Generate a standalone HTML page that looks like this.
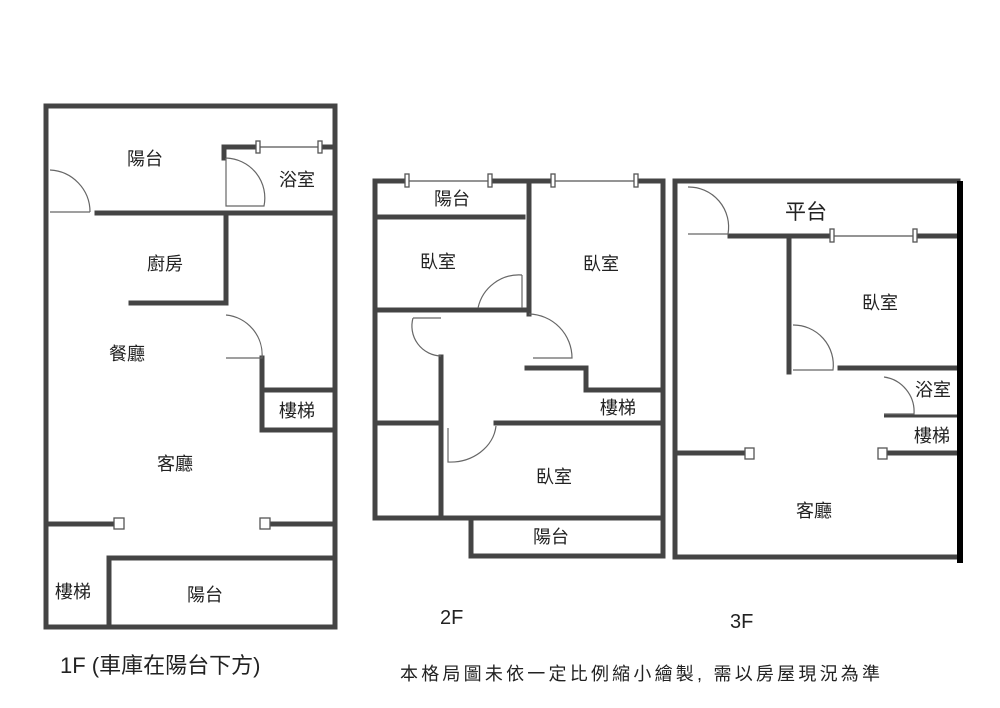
<!DOCTYPE html>
<html><head><meta charset="utf-8"><style>
body{margin:0;background:#fff}
svg{display:block}
text{font-family:"Liberation Sans","Noto Sans CJK TC",sans-serif;fill:#222}
</style></head><body>
<svg width="1000" height="708" viewBox="0 0 1000 708">
<g stroke="#444" stroke-width="5" fill="none" stroke-linecap="square">
<path d="M46 627V106H335V627H46"/>
<path d="M97 213H335"/>
<path d="M224 158V147H258M320 147H335"/>
<path d="M226 213V303H131"/>
<path d="M262 358V430H335M262 390H335"/>
<path d="M46 524H114M270 524H335"/>
<path d="M109 627V558H335"/>
<path d="M375 518V181H405M490 181H553M636 181H663V556H471V518H375"/>
<path d="M441 518H663"/>
<path d="M375 217H523"/>
<path d="M529 181V314M375 310H529"/>
<path d="M527 368H586V390H663"/>
<path d="M375 423H440M496 423H663"/>
<path d="M441 357V518"/>
<path d="M675 557V181H958M675 557H958"/>
<path d="M730 236H832M915 236H958"/>
<path d="M789 236V372M840 368H958"/>
<path d="M675 453H745M888 453H958"/>
</g>
<path d="M884 416H958" stroke="#444" stroke-width="3"/>
<path d="M960 181V563" stroke="#000" stroke-width="6"/>
<g stroke="#555" stroke-width="1.3" fill="#fff">
<path d="M258 147H320M405 181H490M553 181H636M832 236H915"/>
<rect x="256" y="141" width="4" height="12"/><rect x="318" y="141" width="4" height="12"/>
<rect x="405" y="174" width="4" height="13"/><rect x="488" y="174" width="4" height="13"/>
<rect x="551" y="174" width="4" height="13"/><rect x="634" y="174" width="4" height="13"/>
<rect x="830" y="229" width="4" height="13"/><rect x="913" y="229" width="4" height="13"/>
<rect x="114" y="518" width="10" height="11"/><rect x="260" y="518" width="10" height="11"/>
<rect x="745" y="448" width="9" height="11"/><rect x="878" y="448" width="9" height="11"/>
</g>
<g stroke="#666" stroke-width="1.2" fill="none">
<path d="M50 170A42 42 0 0 1 90 212M50 212H90"/>
<path d="M226 158A40 40 0 0 1 264 206H226V158"/>
<path d="M226 315A40 40 0 0 1 262 358H226"/>
<path d="M522 275A42 42 0 0 0 478 308M522 275V308"/>
<path d="M413 318A30 30 0 0 0 441 356M413 318H441"/>
<path d="M529 314A44 44 0 0 1 572 358H533"/>
<path d="M448 428V462A46 40 0 0 0 496 426"/>
<path d="M688 187A40 40 0 0 1 728 234H688"/>
<path d="M793 325A40 40 0 0 1 833 370H793"/>
<path d="M884 377A35 35 0 0 1 914 414H884"/>
</g>
<g font-size="18" text-anchor="middle">
<text x="145" y="165">陽台</text>
<text x="297" y="186">浴室</text>
<text x="165" y="270">廚房</text>
<text x="127" y="360">餐廳</text>
<text x="297" y="417">樓梯</text>
<text x="175" y="470">客廳</text>
<text x="73" y="598">樓梯</text>
<text x="205" y="601">陽台</text>
<text x="452" y="205">陽台</text>
<text x="438" y="268">臥室</text>
<text x="601" y="270">臥室</text>
<text x="618" y="414">樓梯</text>
<text x="554" y="483">臥室</text>
<text x="551" y="543">陽台</text>
<text x="806" y="219" font-size="21">平台</text>
<text x="880" y="309">臥室</text>
<text x="933" y="396">浴室</text>
<text x="932" y="442">樓梯</text>
<text x="814" y="517">客廳</text>
</g>
<text x="60" y="673" font-size="22">1F (車庫在陽台下方)</text>
<text x="440" y="624" font-size="20">2F</text>
<text x="730" y="628" font-size="20">3F</text>
<text x="400" y="680" font-size="18" textLength="480" lengthAdjust="spacing">本格局圖未依一定比例縮小繪製, 需以房屋現況為準</text>
</svg>
</body></html>
